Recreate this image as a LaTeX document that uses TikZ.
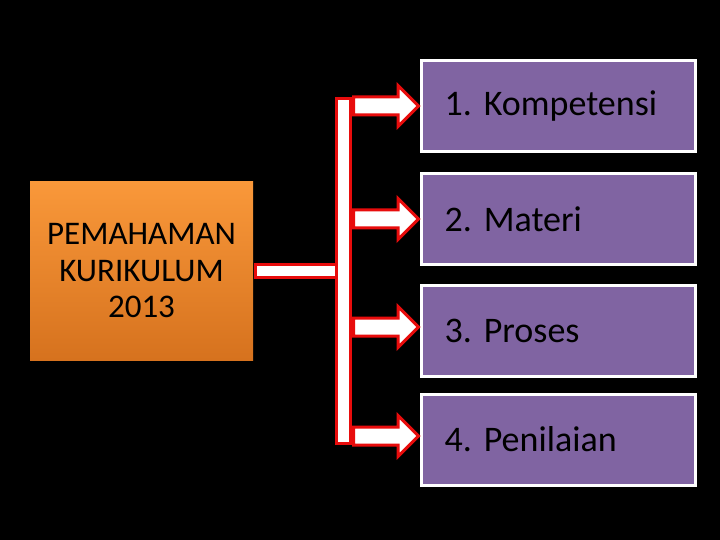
\documentclass[tikz,border=0pt]{standalone}
\usepackage{fontspec}
\setmainfont{Carlito}
\usepackage{tikz}
\usetikzlibrary{positioning, shapes.arrows}
\definecolor{kpurple}{RGB}{128,100,162}
\definecolor{korange1}{RGB}{249,152,58}
\definecolor{korange2}{RGB}{214,114,30}
\definecolor{kred}{RGB}{232,12,12}

\begin{document}
\begin{tikzpicture}[
    x=1pt, y=-1pt,
    topic/.style={rectangle, fill=kpurple, draw=white, line width=3pt,
        minimum width=274pt, minimum height=91pt, inner xsep=23pt,
        text width=228pt, align=left, font=\fontsize{36}{40}\selectfont\frenchspacing},
    redbox/.style={rectangle, fill=white, draw=kred, line width=3pt, inner sep=0pt},
    blockarrow/.style={single arrow, fill=white, draw=kred, line width=3pt,
        inner sep=7.5pt, single arrow head extend=11.5pt, minimum height=65pt}
]
    \fill[black] (0,0) rectangle (720,540);
    \useasboundingbox (0,0) rectangle (720,540);

    % Main box on the left:
    \node[rectangle, top color=korange1, bottom color=korange2,
        minimum width=223pt, minimum height=178pt, align=center,
        font=\fontsize{33}{36.5}\selectfont] (pk) at (141.5,271)
        {PEMAHAMAN\\KURIKULUM\\2013};

    % Four topics on the right:
    \node[topic] (k1) at (558.5,106) {1. Kompetensi};
    \node[topic] (k2) at (558.5,219) {2. Materi};
    \node[topic] (k3) at (558.5,330.5) {3. Proses};
    \node[topic] (k4) at (558.5,439.5) {4. Penilaian};

    % Stem and bar:
    \node[redbox, minimum width=90pt, minimum height=13pt, anchor=west] (stem) at (253.5,271) {};
    \node[redbox, minimum width=14pt, minimum height=345pt] (bar) at (343.5,271) {};

    % Arrows from the bar to the topics:
    \node[blockarrow, anchor=tail] (a1) at (bar.east |- 0,106) {};
    \node[blockarrow, anchor=tail] (a2) at (bar.east |- 0,219) {};
    \node[blockarrow, anchor=tail] (a3) at (bar.east |- 0,327) {};
    \node[blockarrow, anchor=tail] (a4) at (bar.east |- 0,436) {};
\end{tikzpicture}
\end{document}
